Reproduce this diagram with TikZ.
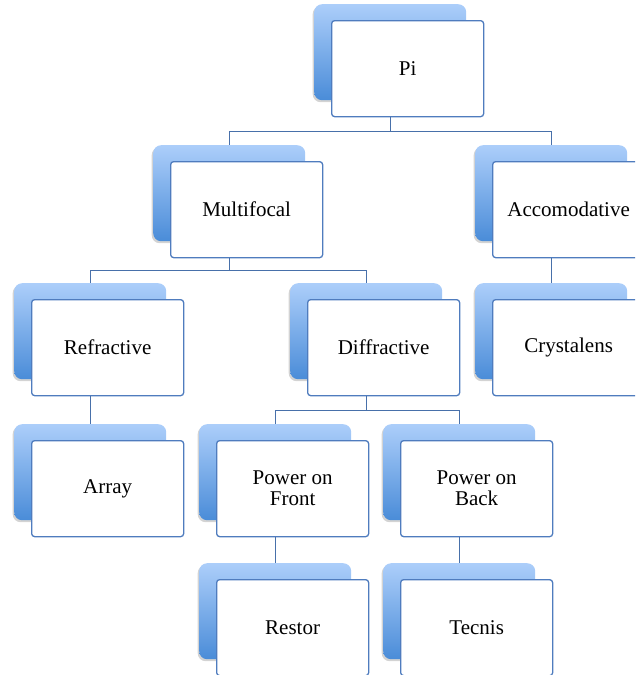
\documentclass[tikz,border=0pt]{standalone}
\usepackage{fontspec}
\setmainfont{Liberation Serif}
\usepackage{xcolor}
\usetikzlibrary{shadows}
\definecolor{boxtop}{RGB}{172,206,250}
\definecolor{boxbot}{RGB}{74,140,216}
\definecolor{boxline}{RGB}{79,124,190}
\definecolor{linkline}{RGB}{72,112,170}
\tikzset{backbox/.style={anchor=north west,minimum width=152pt,minimum height=96pt,
   rounded corners=8pt,top color=boxtop,bottom color=boxbot,draw=none,
   drop shadow={shadow xshift=-1.5pt,shadow yshift=-2pt,opacity=0.35}},
 frontbox/.style={anchor=north west,minimum width=152pt,minimum height=96pt,
   rounded corners=3pt,fill=white,draw=boxline,line width=1.3pt,align=center,
   font=\fontsize{21}{21}\selectfont},
 link/.style={draw=linkline,line width=1.3pt},
 }

\begin{document}
\begin{tikzpicture}[x=1pt,y=-1pt]
        \useasboundingbox (0,0) rectangle (635,675);
        \clip (0,0) rectangle (635,675);

        % top
        \node[backbox] (pi-back) at (314,4) {};
        \node[frontbox] (pi) at ([shift={(17,16)}]pi-back.north west) {Pi};

        % second row
        \node[backbox] (multi-back) at (153,145) {};
        \node[frontbox] (multi) at ([shift={(17,16)}]multi-back.north west) {Multifocal};
        \node[backbox] (acc-back) at (475,145) {};
        \node[frontbox] (acc) at ([shift={(17,16)}]acc-back.north west) {Accomodative};

        % third row
        \node[backbox] (refr-back) at (14,283) {};
        \node[frontbox] (refr) at ([shift={(17,16)}]refr-back.north west) {Refractive};
        \node[backbox] (diff-back) at (290,283) {};
        \node[frontbox] (diff) at ([shift={(17,16)}]diff-back.north west) {Diffractive};
        \node[backbox] (cryst-back) at (475,283) {};
        \node[frontbox] (cryst) at ([shift={(17,16)}]cryst-back.north west) {Crystalens};

        % fourth row
        \node[backbox] (array-back) at (14,424) {};
        \node[frontbox] (array) at ([shift={(17,16)}]array-back.north west) {Array};
        \node[backbox] (pfront-back) at (199,424) {};
        \node[frontbox] (pfront) at ([shift={(17,16)}]pfront-back.north west) {Power on\\Front};
        \node[backbox] (pback-back) at (383,424) {};
        \node[frontbox] (pback) at ([shift={(17,16)}]pback-back.north west) {Power on\\Back};

        % bottom row
        \node[backbox] (restor-back) at (199,563) {};
        \node[frontbox] (restor) at ([shift={(17,16)}]restor-back.north west) {Restor};
        \node[backbox] (tecnis-back) at (383,563) {};
        \node[frontbox] (tecnis) at ([shift={(17,16)}]tecnis-back.north west) {Tecnis};

        % connectors
        \draw[link] (pi-back.south |- pi.south) -- ++(0,14) coordinate (pi-split) -| (multi-back.north);
        \draw[link] (pi-split) -| (acc-back.north);
        \draw[link] (multi-back.south |- multi.south) -- ++(0,12) coordinate (multi-split) -| (refr-back.north);
        \draw[link] (multi-split) -| (diff-back.north);
        \draw[link] (acc-back.south |- acc.south) -- (cryst-back.north);
        \draw[link] (refr-back.south |- refr.south) -- (array-back.north);
        \draw[link] (diff-back.south |- diff.south) -- ++(0,14) coordinate (diff-split) -| (pfront-back.north);
        \draw[link] (diff-split) -| (pback-back.north);
        \draw[link] (pfront-back.south |- pfront.south) -- (restor-back.north);
        \draw[link] (pback-back.south |- pback.south) -- (tecnis-back.north);
    \end{tikzpicture}
\end{document}
